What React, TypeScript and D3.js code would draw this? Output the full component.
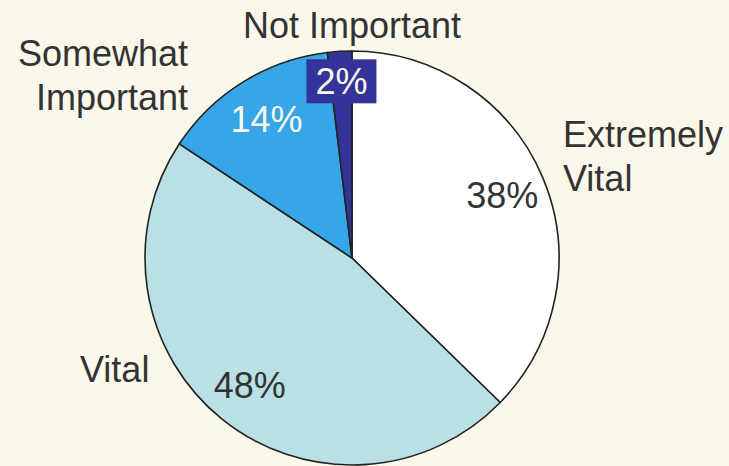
import * as React from 'react'
import * as d3 from 'd3'

const categories = ['Extremely Vital', 'Vital', 'Somewhat Important', 'Not Important']
const shares = [37.3, 47.0, 13.8, 1.9]
const percentLabels = ['38%', '48%', '14%', '2%']
const sliceColors = ['#FFFFFF', '#B9E0E4', '#36A6E8', '#333399']
const percentColors = ['#333333', '#333333', '#FAF8EA', '#FAF8EA']

interface ISlice {
	name: string
	value: number
	pct: string
	fill: string
	textFill: string
}

const W = 729
const H = 466
const cx = 352
const cy = 258
const R = 207
const FONT = '"Liberation Sans", Arial, sans-serif'

// category text placement (layout only)
const catLayout: { [k: string]: { x: number; y: number; anchor: string; lines: string[] } } = {
	'Extremely Vital': { x: 563, y: 147, anchor: 'start', lines: ['Extremely', 'Vital'] },
	'Vital': { x: 80, y: 382, anchor: 'start', lines: ['Vital'] },
	'Somewhat Important': { x: 188, y: 66, anchor: 'end', lines: ['Somewhat', 'Important'] },
	'Not Important': { x: 352, y: 38, anchor: 'middle', lines: ['Not Important'] },
}

const App: React.FC = () => {
	const svgRef = React.useRef<SVGSVGElement>(null)

	React.useEffect(() => {
		document.body.style.margin = '0'
		const data: ISlice[] = categories.map((c, i) => ({
			name: c, value: shares[i], pct: percentLabels[i], fill: sliceColors[i], textFill: percentColors[i],
		}))

		const svg = d3.select(svgRef.current)
		svg.selectAll('*').remove()

		svg.append('rect').attr('width', W).attr('height', H).attr('fill', '#FAF8EA')

		const pie = d3.pie<ISlice>().value(d => d.value).sort(null)
		const arc = d3.arc<d3.PieArcDatum<ISlice>>().innerRadius(0).outerRadius(R)
		const arcs = pie(data)

		const g = svg.append('g').attr('transform', `translate(${cx},${cy})`)

		g.selectAll('path')
			.data(arcs)
			.enter()
			.append('path')
			.attr('d', arc)
			.attr('fill', d => d.data.fill)
			.attr('stroke', '#222222')
			.attr('stroke-width', 1.6)
			.attr('stroke-linejoin', 'round')

		// percent labels near the rim
		const labelR = (d: d3.PieArcDatum<ISlice>) => (d.data.value < 5 ? 177 : 163)
		arcs.forEach(d => {
			const lr = labelR(d)
			const la = d3.arc<d3.PieArcDatum<ISlice>>().innerRadius(lr).outerRadius(lr)
			const [x, y] = la.centroid(d)
			if (d.data.value < 5) {
				g.append('rect')
					.attr('x', x - 35)
					.attr('y', y - 22)
					.attr('width', 70)
					.attr('height', 44)
					.attr('fill', d.data.fill)
			}
			g.append('text')
				.attr('x', x)
				.attr('y', y)
				.attr('dy', '0.36em')
				.attr('text-anchor', 'middle')
				.attr('font-family', FONT)
				.attr('font-size', 36)
				.attr('fill', d.data.textFill)
				.text(d.data.pct)
		})

		// category names
		data.forEach(d => {
			const l = catLayout[d.name]
			const t = svg.append('text')
				.attr('text-anchor', l.anchor)
				.attr('font-family', FONT)
				.attr('font-size', 36)
				.attr('fill', '#333333')
			l.lines.forEach((line, i) => {
				t.append('tspan').attr('x', l.x).attr('y', l.y + i * 43.5).text(line)
			})
		})
	}, [])

	return <svg ref={svgRef} width={W} height={H} style={{ display: 'block' }} />
}

export default App
